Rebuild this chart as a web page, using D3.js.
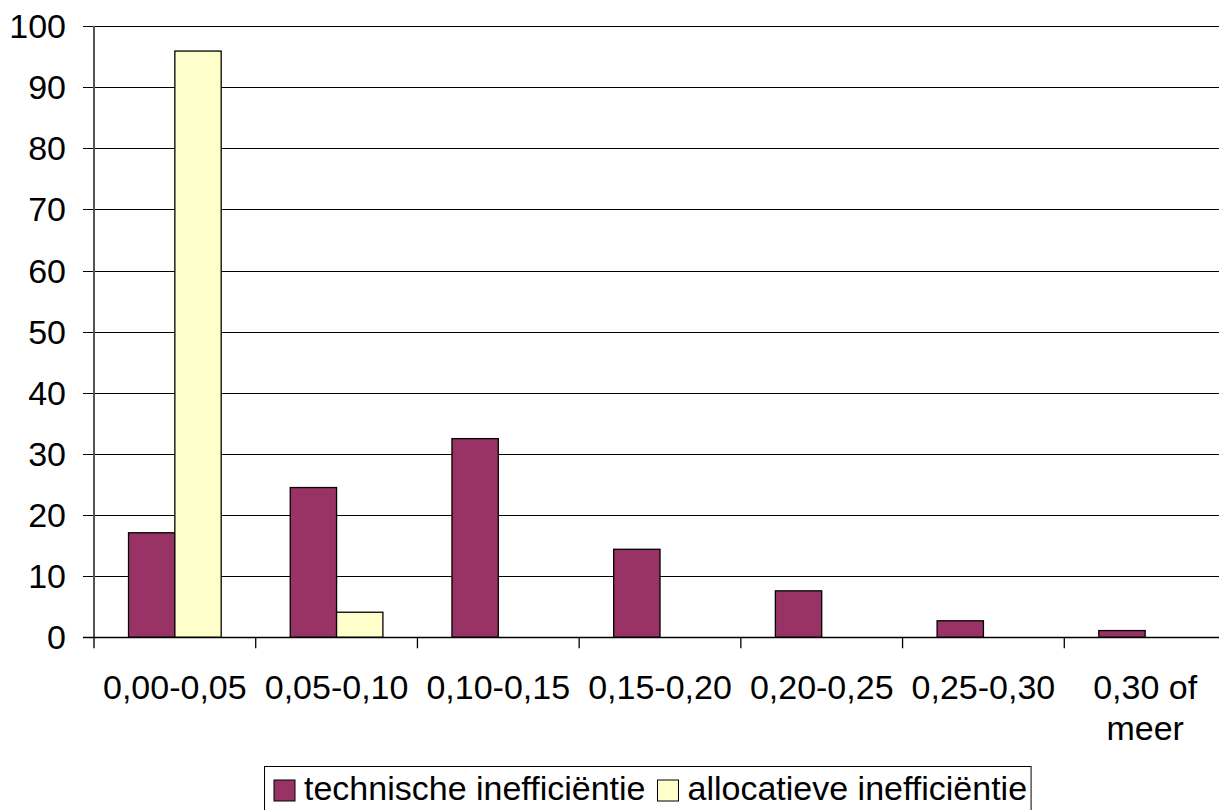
<!DOCTYPE html>
<html>
<head>
<meta charset="utf-8">
<script src="https://cdn.jsdelivr.net/npm/d3@7"></script>
<style>
  html, body { margin: 0; padding: 0; background: #fff; overflow: hidden; }
  svg { display: block; font-family: "Liberation Sans", Arial, sans-serif; }
</style>
</head>
<body>
<svg id="chart" width="1219" height="810"></svg>
<script>
// Inefficiency classes (x axis)
const categories = ["0,00-0,05", "0,05-0,10", "0,10-0,15", "0,15-0,20", "0,20-0,25", "0,25-0,30", "0,30 of meer"];
// Share of observations per class (%)
const technisch = [17.1, 24.5, 32.5, 14.4, 7.6, 2.7, 1.1];
const allocatief = [95.9, 4.1, 0, 0, 0, 0, 0];
const seriesNames = ["technische inefficiëntie", "allocatieve inefficiëntie"];
const seriesColors = ["#993366", "#FFFFCC"];
const yTicks = [0, 10, 20, 30, 40, 50, 60, 70, 80, 90, 100];

const svg = d3.select("#chart");
const plotLeft = 94, plotRight = 1226, plotTop = 26, plotBottom = 637.3;
const fontSize = 34;

const y = d3.scaleLinear().domain([0, 100]).range([plotBottom, plotTop]);
const x0 = d3.scaleBand().domain(categories).range([plotLeft, plotRight])
  .paddingInner(0.427).paddingOuter(0.2135);
const x1 = d3.scaleBand().domain(seriesNames).range([0, x0.bandwidth()]);
const step = x0.step();

// Horizontal gridlines with tick marks left of the axis
svg.append("g").selectAll("line").data(yTicks.filter(d => d > 0)).join("line")
  .attr("x1", plotLeft - 11).attr("x2", 1219)
  .attr("y1", d => Math.round(y(d)) + 0.5).attr("y2", d => Math.round(y(d)) + 0.5)
  .attr("stroke", "#000").attr("stroke-width", 1);

// Y axis labels
svg.append("g").selectAll("text").data(yTicks).join("text")
  .attr("x", 66).attr("y", d => y(d))
  .attr("text-anchor", "end").attr("dominant-baseline", "central")
  .attr("font-size", fontSize).attr("fill", "#000")
  .text(d => d);

// Bars
const rows = categories.map((c, i) => ({ cat: c, vals: [technisch[i], allocatief[i]] }));
const groups = svg.append("g").selectAll("g").data(rows).join("g")
  .attr("transform", d => `translate(${x0(d.cat)},0)`);
groups.selectAll("rect")
  .data(d => d.vals.map((v, j) => ({ v, name: seriesNames[j], color: seriesColors[j] })).filter(e => e.v > 0))
  .join("rect")
  .attr("x", d => x1(d.name))
  .attr("y", d => y(d.v))
  .attr("width", x1.bandwidth())
  .attr("height", d => plotBottom - y(d.v))
  .attr("fill", d => d.color)
  .attr("stroke", "#000").attr("stroke-width", 1.3);

// Y axis line
svg.append("line")
  .attr("x1", plotLeft).attr("x2", plotLeft).attr("y1", plotTop).attr("y2", plotBottom + 11)
  .attr("stroke", "#555").attr("stroke-width", 2);
// X axis baseline
svg.append("line")
  .attr("x1", plotLeft - 11).attr("x2", 1219)
  .attr("y1", Math.round(plotBottom) + 0.5).attr("y2", Math.round(plotBottom) + 0.5)
  .attr("stroke", "#000").attr("stroke-width", 1.3);

// Category boundary ticks below the x axis
svg.append("g").selectAll("line").data(categories.slice(1)).join("line")
  .attr("x1", d => x0(d) - x0.paddingInner() * step / 2)
  .attr("x2", d => x0(d) - x0.paddingInner() * step / 2)
  .attr("y1", plotBottom).attr("y2", plotBottom + 11)
  .attr("stroke", "#000").attr("stroke-width", 1.3);

// X axis labels (wrap "0,30 of meer" into two lines)
const xl = svg.append("g").selectAll("text").data(categories).join("text")
  .attr("text-anchor", "middle").attr("font-size", fontSize).attr("fill", "#000")
  .attr("x", d => x0(d) + x0.bandwidth() / 2).attr("y", 699);
xl.each(function(d) {
  const t = d3.select(this);
  const parts = d === "0,30 of meer" ? ["0,30 of", "meer"] : [d];
  parts.forEach((p, k) => {
    t.append("tspan").attr("x", x0(d) + x0.bandwidth() / 2)
      .attr("dy", k === 0 ? 0 : 41).text(p);
  });
});

// Legend
const legend = svg.append("g");
const box = legend.append("rect").attr("fill", "#fff").attr("stroke", "#000").attr("stroke-width", 1);
let cx = 274;
seriesNames.forEach((name, i) => {
  legend.append("rect").attr("x", cx).attr("y", 780).attr("width", 21).attr("height", 21)
    .attr("fill", seriesColors[i]).attr("stroke", "#000").attr("stroke-width", 1);
  const t = legend.append("text").attr("x", cx + 30).attr("y", 800)
    .attr("font-size", fontSize).attr("fill", "#000").text(name);
  const w = t.node().getComputedTextLength();
  cx = cx + 30 + w + 12;
});
box.attr("x", 264.5).attr("y", 766.5).attr("width", cx - 12 + 4 - 264.5).attr("height", 60);
</script>
</body>
</html>
